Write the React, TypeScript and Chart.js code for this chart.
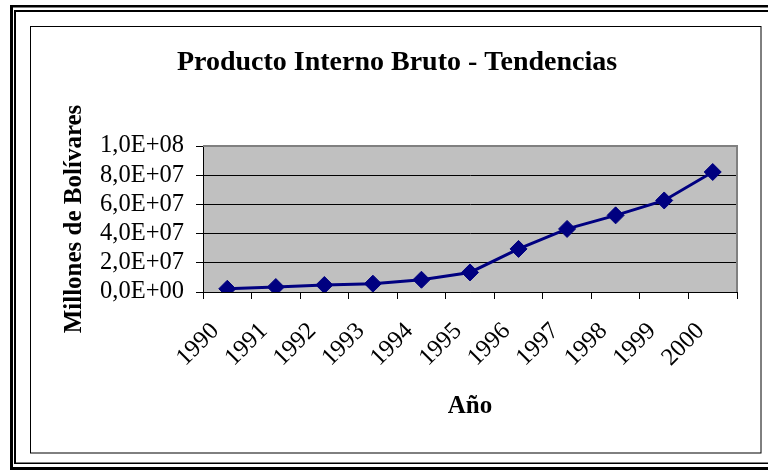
import React, { useEffect, useRef } from "react";
import { Chart, registerables } from "chart.js";

Chart.register(...registerables);

const categories = ["1990", "1991", "1992", "1993", "1994", "1995", "1996", "1997", "1998", "1999", "2000"];
const pibValues = [2200000, 3400000, 4800000, 5700000, 8400000, 13400000, 29500000, 43200000, 52500000, 62700000, 82200000];
const yTicks = [0, 20000000, 40000000, 60000000, 80000000, 100000000];

const chartTitle = "Producto Interno Bruto - Tendencias";
const yTitle = "Millones de Bolívares";
const xTitle = "Año";

const SERIF = '"Liberation Serif", "Times New Roman", Times, serif';

function formatExp(v: number): string {
  if (v === 0) return "0,0E+00";
  const s = v.toExponential(1);
  const [mant, exp] = s.split("e");
  const sign = exp[0] === "-" ? "-" : "+";
  const digits = exp.replace(/[+-]/, "").padStart(2, "0");
  return mant.replace(".", ",") + "E" + sign + digits;
}

const framePlugin = {
  id: "framePlugin",
  beforeDraw(chart: any) {
    const ctx = chart.ctx;
    const { width, height } = chart;
    ctx.save();
    ctx.fillStyle = "#ffffff";
    ctx.fillRect(0, 0, width, height);
    ctx.fillStyle = "#000000";
    ctx.fillRect(10, 5, width, 2.5);
    ctx.fillRect(10, 5, 3, 465);
    ctx.fillRect(10, 467, width, 3);
    ctx.fillRect(14, 10, width, 2);
    ctx.fillRect(14, 10, 2, 454);
    ctx.fillRect(14, 462.5, width, 1.5);
    ctx.strokeStyle = "#000000";
    ctx.lineWidth = 1;
    ctx.strokeRect(30.5, 26.5, 730.5, 426.5);
    const a = chart.chartArea;
    ctx.fillStyle = "#c0c0c0";
    ctx.fillRect(a.left, a.top, a.right - a.left, a.bottom - a.top);
    ctx.restore();
  },
  beforeDatasetsDraw(chart: any) {
    const ctx = chart.ctx;
    const a = chart.chartArea;
    ctx.save();
    ctx.strokeStyle = "#808080";
    ctx.lineWidth = 2;
    ctx.beginPath();
    ctx.moveTo(a.left, a.top);
    ctx.lineTo(a.right, a.top);
    ctx.lineTo(a.right, a.bottom);
    ctx.stroke();
    ctx.restore();
  },
};

export default function App() {
  const canvasRef = useRef<HTMLCanvasElement | null>(null);

  useEffect(() => {
    if (!canvasRef.current) return;
    const chart = new Chart(canvasRef.current, {
      type: "line",
      data: {
        labels: categories,
        datasets: [
          {
            label: "PIB",
            data: pibValues,
            borderColor: "#000080",
            backgroundColor: "#000080",
            borderWidth: 3,
            pointStyle: "rectRot",
            pointRadius: 8.5,
            pointBorderWidth: 1,
            pointBackgroundColor: "#000080",
            pointBorderColor: "#000080",
            tension: 0,
            fill: false,
          },
        ],
      },
      options: {
        animation: false,
        responsive: false,
        devicePixelRatio: 1,
        layout: { padding: { left: 57, right: 31, top: 0, bottom: 40 } },
        plugins: {
          legend: { display: false },
          tooltip: { enabled: false },
          title: {
            display: true,
            text: chartTitle,
            color: "#000000",
            font: { family: SERIF, size: 28, weight: "bold", lineHeight: 1.2 },
            padding: { top: 46, bottom: 66.4 },
          },
        },
        scales: {
          x: {
            type: "category",
            offset: true,
            afterFit(scale: any) {
              scale.height = 472 - 40 - 292;
            },
            grid: {
              offset: true,
              drawOnChartArea: false,
              drawTicks: true,
              tickLength: 7,
              color: "#000000",
              lineWidth: 1,
            },
            border: { display: true, color: "#000000", width: 1 },
            ticks: {
              autoSkip: false,
              maxRotation: 45,
              minRotation: 45,
              labelOffset: -12,
              padding: 18,
              color: "#000000",
              font: { family: SERIF, size: 24.5, lineHeight: 1.2 },
            },
            title: {
              display: true,
              text: xTitle,
              color: "#000000",
              font: { family: SERIF, size: 25, weight: "bold", lineHeight: 1.2 },
              padding: { top: 0, bottom: 10 },
            },
          },
          y: {
            min: 0,
            max: 100000000,
            afterFit(scale: any) {
              scale.width = 203 - 57;
            },
            afterBuildTicks(scale: any) {
              scale.ticks = yTicks.map((v) => ({ value: v }));
            },
            grid: {
              color: "#000000",
              lineWidth: 1,
              tickLength: 7,
              drawTicks: true,
            },
            border: { display: true, color: "#000000", width: 1 },
            ticks: {
              autoSkip: false,
              padding: 12,
              color: "#000000",
              font: { family: SERIF, size: 24.5, lineHeight: 1.2 },
              callback: (v: any) => formatExp(Number(v)),
            },
            title: {
              display: true,
              text: yTitle,
              color: "#000000",
              font: { family: SERIF, size: 25, weight: "bold", lineHeight: 1.2 },
              padding: { top: 3, bottom: 0 },
            },
          },
        },
      },
      plugins: [framePlugin],
    } as any);
    return () => chart.destroy();
  }, []);

  return (
    <div style={{ position: "absolute", left: 0, top: 0, width: 768, height: 472, background: "#fff" }}>
      <canvas ref={canvasRef} width={768} height={472} style={{ width: 768, height: 472, display: "block" }} />
    </div>
  );
}
